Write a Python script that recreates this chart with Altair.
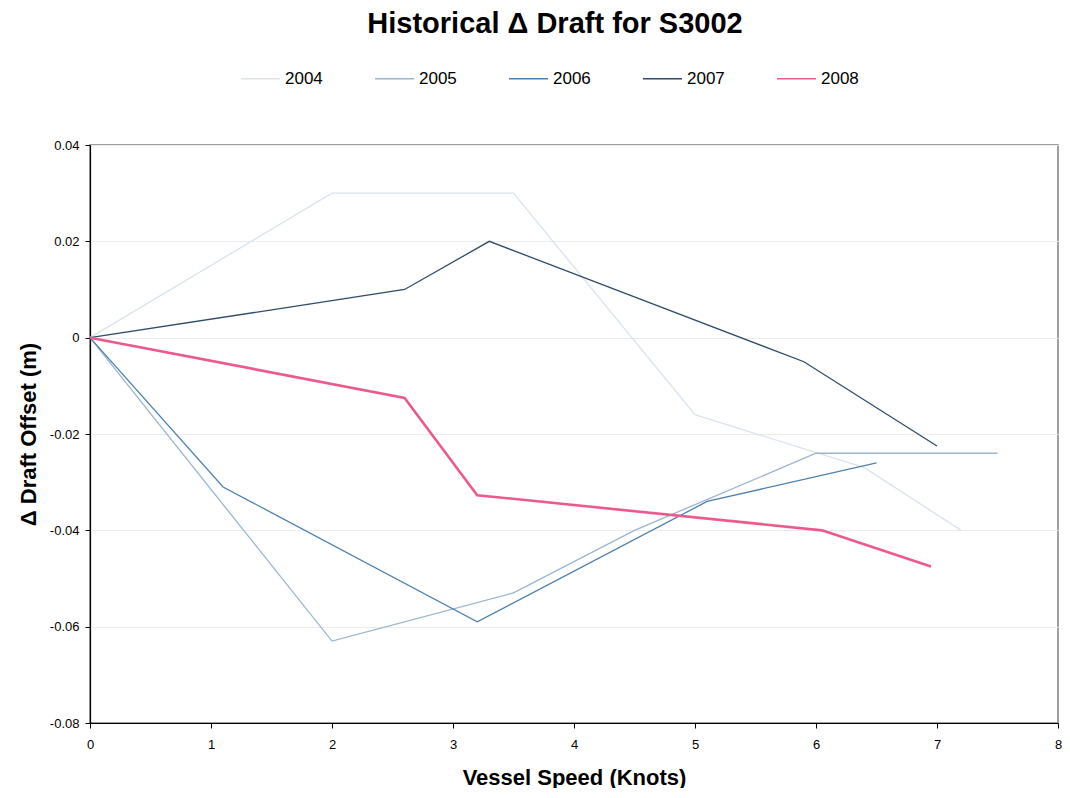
import altair as alt
import pandas as pd

years = ["2004", "2005", "2006", "2007", "2008"]
speed_2004 = [0, 2, 3.5, 5, 6.4, 7.2]
draft_2004 = [0, 0.030, 0.030, -0.016, -0.027, -0.040]
speed_2005 = [0, 2, 3.5, 4.5, 6, 7.5]
draft_2005 = [0, -0.063, -0.053, -0.040, -0.024, -0.024]
speed_2006 = [0, 1.1, 3.2, 5.1, 6.5]
draft_2006 = [0, -0.031, -0.059, -0.034, -0.026]
speed_2007 = [0, 2.6, 3.3, 5.9, 7.0]
draft_2007 = [0, 0.010, 0.020, -0.005, -0.0225]
speed_2008 = [0, 2.6, 3.2, 6.05, 6.95]
draft_2008 = [0, -0.0125, -0.0327, -0.040, -0.0475]

x_ticks = [0, 1, 2, 3, 4, 5, 6, 7, 8]
y_ticks = [-0.08, -0.06, -0.04, -0.02, 0, 0.02, 0.04]

colors = ["#d9e3ee", "#9ab5d1", "#4d80ae", "#2d4b6b", "#ec5a8b"]
widths = [1.3, 1.3, 1.3, 1.3, 2.6]

series = {
    "2004": (speed_2004, draft_2004),
    "2005": (speed_2005, draft_2005),
    "2006": (speed_2006, draft_2006),
    "2007": (speed_2007, draft_2007),
    "2008": (speed_2008, draft_2008),
}
rows = []
for i, y in enumerate(years):
    sp, dr = series[y]
    for s, d in zip(sp, dr):
        rows.append({"year": y, "speed": s, "draft": d, "w": widths[i]})
df = pd.DataFrame(rows)

FONT = "Liberation Sans"

legend = alt.Legend(
    title=None, orient="none", legendX=150, legendY=-87, direction="horizontal",
    columns=5, columnPadding=48, symbolType="stroke", symbolSize=1521,
    symbolStrokeWidth=1.6,
    labelFont=FONT, labelFontSize=17, labelColor="black", labelOffset=4,
)

chart = alt.Chart(df).mark_line().encode(
    x=alt.X("speed:Q", title="Vessel Speed (Knots)",
            scale=alt.Scale(domain=[0, 8], nice=False),
            axis=alt.Axis(values=x_ticks, grid=False, titlePadding=16, labelPadding=10,
                          labelFlush=False)),
    y=alt.Y("draft:Q", title="\u0394 Draft Offset (m)",
            scale=alt.Scale(domain=[-0.08, 0.04], nice=False),
            axis=alt.Axis(values=y_ticks, grid=True, titlePadding=9, labelPadding=6,
                          labelFlush=False,
                          labelExpr="datum.value == 0 ? '0' : replace(format(datum.value, '.2f'), '\u2212', '-')")),
    color=alt.Color("year:N", scale=alt.Scale(domain=years, range=colors), legend=legend),
    strokeWidth=alt.StrokeWidth("w:Q", scale=None, legend=None),
    detail="year:N",
).properties(
    width=968,
    height=578,
    padding={"left": 82, "top": 137, "right": 4, "bottom": 65},
    autosize=alt.AutoSizeParams(type="none"),
    title=alt.Title("Historical \u0394 Draft for S3002", font=FONT, fontSize=29,
                    fontWeight="bold", color="black", anchor="middle", dx=-19, offset=19),
).configure_view(
    stroke="#808080", strokeWidth=1.5,
).configure_axis(
    domainColor="black", tickColor="black", tickSize=5, domainWidth=1.2,
    labelFont=FONT, labelFontSize=13, labelColor="black",
    titleFont=FONT, titleFontWeight="bold", titleFontSize=22, titleColor="black",
    gridColor="#ececec",
)

chart.save("out.html", embed_options={"renderer": "svg", "actions": False})
